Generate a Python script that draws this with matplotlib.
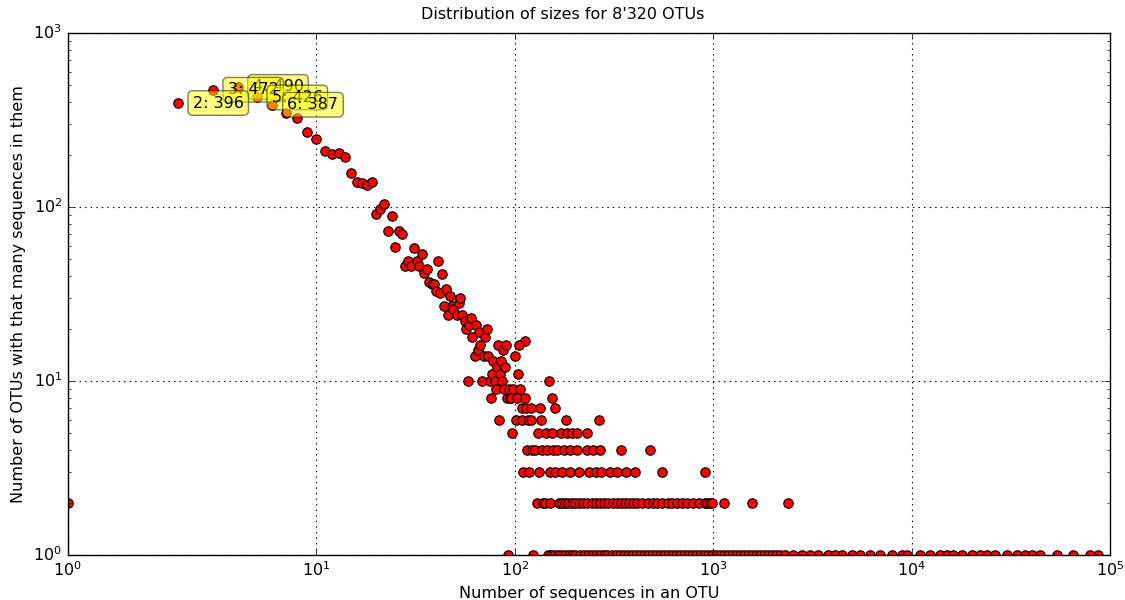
import matplotlib
matplotlib.use('Agg')
import numpy as np
import matplotlib.pyplot as plt
from matplotlib.ticker import NullLocator

# OTU size (sequences per OTU) and how many OTUs have that size
small_sizes = [1, 2, 3, 4, 5, 6, 7, 8, 9, 10, 11, 12, 13, 14, 15, 16, 17, 18, 19, 20,
               21, 22, 23, 24, 25, 26, 27, 28, 29, 30, 31, 32, 33, 34, 35, 36, 37, 38, 39, 40,
               41, 42, 43, 44, 45, 46, 47, 48, 49, 51, 52, 53, 54, 56, 57, 58, 59, 60, 61, 63,
               64, 65, 66, 67, 68, 70, 71, 72, 73, 75, 76, 77, 78, 79, 80, 81, 82, 83, 84, 85,
               86, 87, 88, 89, 90, 91, 93, 94]
small_counts = [2, 396, 472, 490, 426, 387, 345, 326, 271, 246, 210, 202, 204, 193, 157, 140, 138, 133, 140, 91,
                97, 104, 73, 89, 59, 73, 70, 46, 49, 46, 58, 49, 46, 54, 42, 44, 37, 36, 36, 33,
                49, 32, 41, 27, 34, 24, 31, 27, 26, 24, 28, 30, 24, 22, 20, 10, 21, 23, 18, 14,
                21, 15, 19, 16, 10, 14, 18, 20, 14, 10, 8, 11, 13, 10, 9, 12, 16, 6, 11, 13,
                10, 15, 9, 12, 16, 8, 9, 8]

mid_sizes = [113, 105, 100, 104, 148, 98, 106, 96, 103, 112, 153,
             109, 114, 121, 134, 159,
             101, 108, 116, 120, 136, 180, 265,
             97, 131, 143, 154, 170, 184, 194, 206, 230,
             115, 122, 127, 137, 146, 155, 163, 176, 190, 205, 231, 249, 270, 341, 482,
             110, 118, 133, 150, 160, 173, 189, 210, 236, 256, 273, 302, 327, 362, 402, 552, 906]
mid_counts = [17, 16, 14, 11, 10, 9, 9, 8, 8, 8, 8,
              7, 7, 7, 7, 7,
              6, 6, 6, 6, 6, 6, 6,
              5, 5, 5, 5, 5, 5, 5, 5, 5,
              4, 4, 4, 4, 4, 4, 4, 4, 4, 4, 4, 4, 4, 4, 4,
              3, 3, 3, 3, 3, 3, 3, 3, 3, 3, 3, 3, 3, 3, 3, 3, 3]

# sizes shared by exactly two OTUs
pair_sizes = [129, 139, 142, 151, 166, 172, 179, 186, 193, 201, 211, 221, 232, 244, 257,
              268, 281, 296, 311, 326, 342, 359, 377, 395, 415, 435, 470, 499, 520, 549,
              593, 620, 654, 693, 740, 793, 850, 908, 935, 962, 985, 1132, 1574, 2392]

# sizes found in a single OTU
single_sizes = [92, 123, 147, 152, 158, 164, 171, 178, 187, 195, 202, 214, 222, 233, 246,
                255, 269, 280, 293, 309, 322, 337, 355, 370, 388, 408, 426, 446, 469, 491,
                512, 537, 565, 589, 617, 646, 679, 712, 745, 779, 816, 856, 897, 937, 981,
                1030, 1077, 1128, 1184, 1240, 1297, 1360, 1423, 1492, 1563, 1635, 1713, 1796,
                1881, 1968, 2066, 2160, 2298, 2531, 2790, 3072, 3383, 3799, 4100, 4440, 4985,
                5488, 6163, 6922, 7931, 8904, 9436, 11012, 12367, 13888, 15013, 16204, 17865,
                20063, 22101, 23878, 26299, 30120, 33823, 37249, 40260, 44340, 53800, 65245,
                79185, 87200]

labelled_sizes = [2, 3, 4, 5, 6]

sizes = np.array(small_sizes + mid_sizes + pair_sizes + single_sizes)
counts = np.array(small_counts + mid_counts + [2] * len(pair_sizes) + [1] * len(single_sizes))
total_otus = 8320

plt.style.use('classic')
plt.rcParams['font.family'] = ['DejaVu Sans']
plt.rcParams['font.size'] = 11.5

fig = plt.figure(figsize=(11.25, 6), dpi=100, facecolor='white')
ax = fig.add_axes([0.0601, 0.075, 0.9266, 0.87])
ax.set_facecolor('white')

ax.plot(sizes, counts, 'o', color='red', markeredgecolor='black',
        markersize=6.8, markeredgewidth=0.8)

# label the most common sizes, biggest count first
top = sorted(labelled_sizes, key=lambda s: -counts[sizes == s][0])
for s in top:
    c = counts[sizes == s][0]
    ax.annotate('%d: %d' % (s, c), xy=(s, c), xytext=(10.8, 0),
                textcoords='offset points', ha='left', va='center', fontsize=11.5,
                bbox=dict(boxstyle='round,pad=0.3', fc='yellow', alpha=0.5))

ax.set_xscale('symlog', linthresh=2, linscale=1)
ax.set_yscale('log')
ax.set_xlim(1, 1e5)
ax.set_ylim(1, 1e3)
ax.set_xticks([1, 10, 100, 1000, 10000, 100000])
ax.xaxis.set_minor_locator(NullLocator())
ax.grid(True, which='major', color='black', linestyle=':', linewidth=0.8)

fig.suptitle("Distribution of sizes for %d'%03d OTUs" % (total_otus // 1000, total_otus % 1000),
             fontsize=11.5, x=0.5, y=0.988)
ax.set_xlabel('Number of sequences in an OTU', fontsize=11.5)
ax.set_ylabel('Number of OTUs with that many sequences in them', fontsize=11.5)

fig.savefig('out.png', dpi=100, facecolor='white')
